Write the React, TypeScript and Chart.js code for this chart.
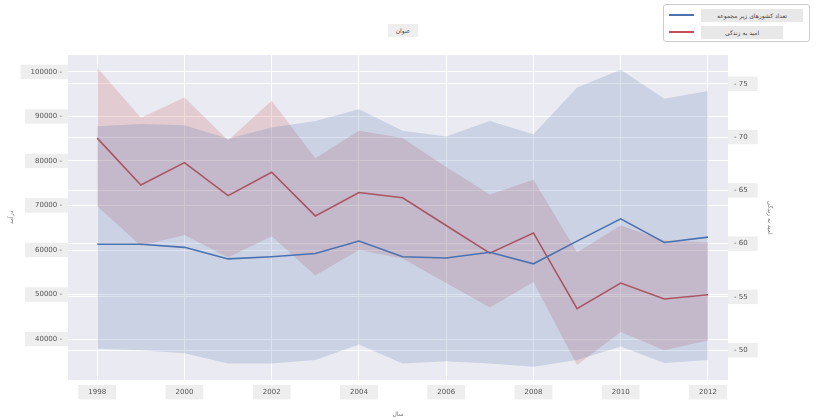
import React, { useEffect, useRef } from "react";
import { Chart, registerables } from "chart.js";
Chart.register(...registerables);

const years = [1998,1999,2000,2001,2002,2003,2004,2005,2006,2007,2008,2009,2010,2011,2012];
const blueMean = [61300,61300,60600,58000,58500,59200,62000,58500,58200,59500,56900,62000,67000,61700,62900];
const blueUpper = [87800,88300,88000,85000,87500,89000,91600,86800,85500,89000,86000,96500,100500,94000,95700];
const blueLower = [37800,37500,36800,34500,34500,35300,38800,34500,35000,34500,33800,35300,38300,34600,35300];
const redMean = [69.9,65.5,67.6,64.5,66.7,62.6,64.8,64.3,61.7,59.1,61.0,53.9,56.3,54.8,55.2];
const redUpper = [76.5,71.8,73.7,69.7,73.4,68.0,70.6,69.9,67.2,64.6,66.0,59.2,61.7,60.3,60.1];
const redLower = [63.5,59.8,60.8,58.7,60.7,57.0,59.4,58.6,56.3,54.0,56.4,48.6,51.7,50.0,50.9];
const leftTicks = [40000,50000,60000,70000,80000,90000,100000];
const rightTicks = [50,55,60,65,70,75];
const legendLabels = ["تعداد کشورهای زیر مجموعه", "امید به زندگی"];

const BLUE = "#4c72b0", RED = "#c44e52";
const tickStyle = { color: "#555", font: { size: 7, family: "DejaVu Sans" }, showLabelBackdrop: true, backdropColor: "#eeeeee", backdropPadding: { x: 10, y: 3 } };
const titleStyle = { color: "#777", font: { size: 6, family: "DejaVu Sans" } };

export default function App() {
  const ref = useRef<HTMLCanvasElement>(null);
  useEffect(() => {
    const pts = (arr: number[]) => arr.map((v, i) => ({ x: years[i], y: v }));
    const chart = new Chart(ref.current!, {
      type: "line",
      data: {
        datasets: [
          { data: pts(blueUpper), yAxisID: "y", borderWidth: 0, pointRadius: 0, fill: false },
          { data: pts(blueLower), yAxisID: "y", borderWidth: 0, pointRadius: 0, fill: "-1", backgroundColor: "rgba(76,114,176,0.2)" },
          { label: legendLabels[0], data: pts(blueMean), yAxisID: "y", borderColor: BLUE, borderWidth: 1.6, pointRadius: 0, fill: false },
          { data: pts(redUpper), yAxisID: "y2", borderWidth: 0, pointRadius: 0, fill: false },
          { data: pts(redLower), yAxisID: "y2", borderWidth: 0, pointRadius: 0, fill: "-1", backgroundColor: "rgba(196,78,82,0.2)" },
          { label: legendLabels[1], data: pts(redMean), yAxisID: "y2", borderColor: RED, borderWidth: 1.6, pointRadius: 0, fill: false },
        ],
      },
      options: {
        animation: false, responsive: false,
        layout: { padding: { top: 55, left: 8, right: 52, bottom: 0 } },
        plugins: { legend: { display: false }, tooltip: { enabled: false }, title: { display: false } },
        scales: {
          x: {
            type: "linear", min: 1997.33, max: 2012.46,
            afterBuildTicks: (s: any) => { s.ticks = [1998,2000,2002,2004,2006,2008,2010,2012].map(v => ({ value: v })); },
            afterFit: (s: any) => { s.height = 40; },
            grid: { color: "#ffffff", lineWidth: 1, drawTicks: false },
            border: { display: false },
            ticks: { ...tickStyle, padding: 8, callback: (v: any) => String(v) },
            title: { display: true, text: "سال", ...titleStyle, padding: 2 },
          },
          y: {
            position: "left", min: 30800, max: 103800,
            afterBuildTicks: (s: any) => { s.ticks = leftTicks.map(v => ({ value: v })); },
            afterFit: (s: any) => { s.width = 60; },
            grid: { color: "#ffffff", lineWidth: 1, drawTicks: false },
            border: { display: false },
            ticks: { ...tickStyle, padding: 6, callback: (v: any) => v + " -" },
            title: { display: true, text: "درآمد", ...titleStyle, padding: 0 },
          },
          y2: {
            position: "right", min: 47.2, max: 77.7,
            afterBuildTicks: (s: any) => { s.ticks = rightTicks.map(v => ({ value: v })); },
            afterFit: (s: any) => { s.width = 45; },
            grid: { color: "#ffffff", lineWidth: 1, drawTicks: false },
            border: { display: false },
            ticks: { ...tickStyle, padding: 6, callback: (v: any) => "- " + v },
            title: { display: true, text: "امید به زندگی", ...titleStyle, padding: 0 },
          },
        },
      },
      plugins: [{
        id: "bg",
        beforeDraw(c: any) {
          const { ctx, chartArea: a } = c;
          ctx.save(); ctx.fillStyle = "#eaeaf2"; ctx.fillRect(a.left, a.top, a.right - a.left, a.bottom - a.top); ctx.restore();
        },
      }],
    } as any);
    return () => chart.destroy();
  }, []);
  const box: React.CSSProperties = { background: "#e8e8e8", fontSize: 6, color: "#444", fontFamily: "DejaVu Sans", padding: "3px 0", textAlign: "center", whiteSpace: "nowrap", overflow: "hidden" };
  return (
    <div style={{ position: "fixed", left: 0, top: 0, width: 825, height: 420, background: "#fff" }}>
      <canvas ref={ref} width={825} height={420} style={{ width: 825, height: 420 }} />
      <div style={{ position: "absolute", left: 388, top: 24, ...box, width: 30, background: "#eee" }}>عنوان</div>
      <div style={{ position: "absolute", left: 663, top: 4, width: 145, height: 36, border: "1px solid #ccc", borderRadius: 3, background: "#fff" }}>
        <div style={{ position: "absolute", left: 5, top: 9, width: 25, height: 2, background: BLUE }} />
        <div style={{ position: "absolute", left: 37, top: 4, width: 102, ...box }} dir="rtl">{legendLabels[0]}</div>
        <div style={{ position: "absolute", left: 5, top: 26, width: 25, height: 2, background: RED }} />
        <div style={{ position: "absolute", left: 37, top: 21, width: 82, ...box }} dir="rtl">{legendLabels[1]}</div>
      </div>
    </div>
  );
}
